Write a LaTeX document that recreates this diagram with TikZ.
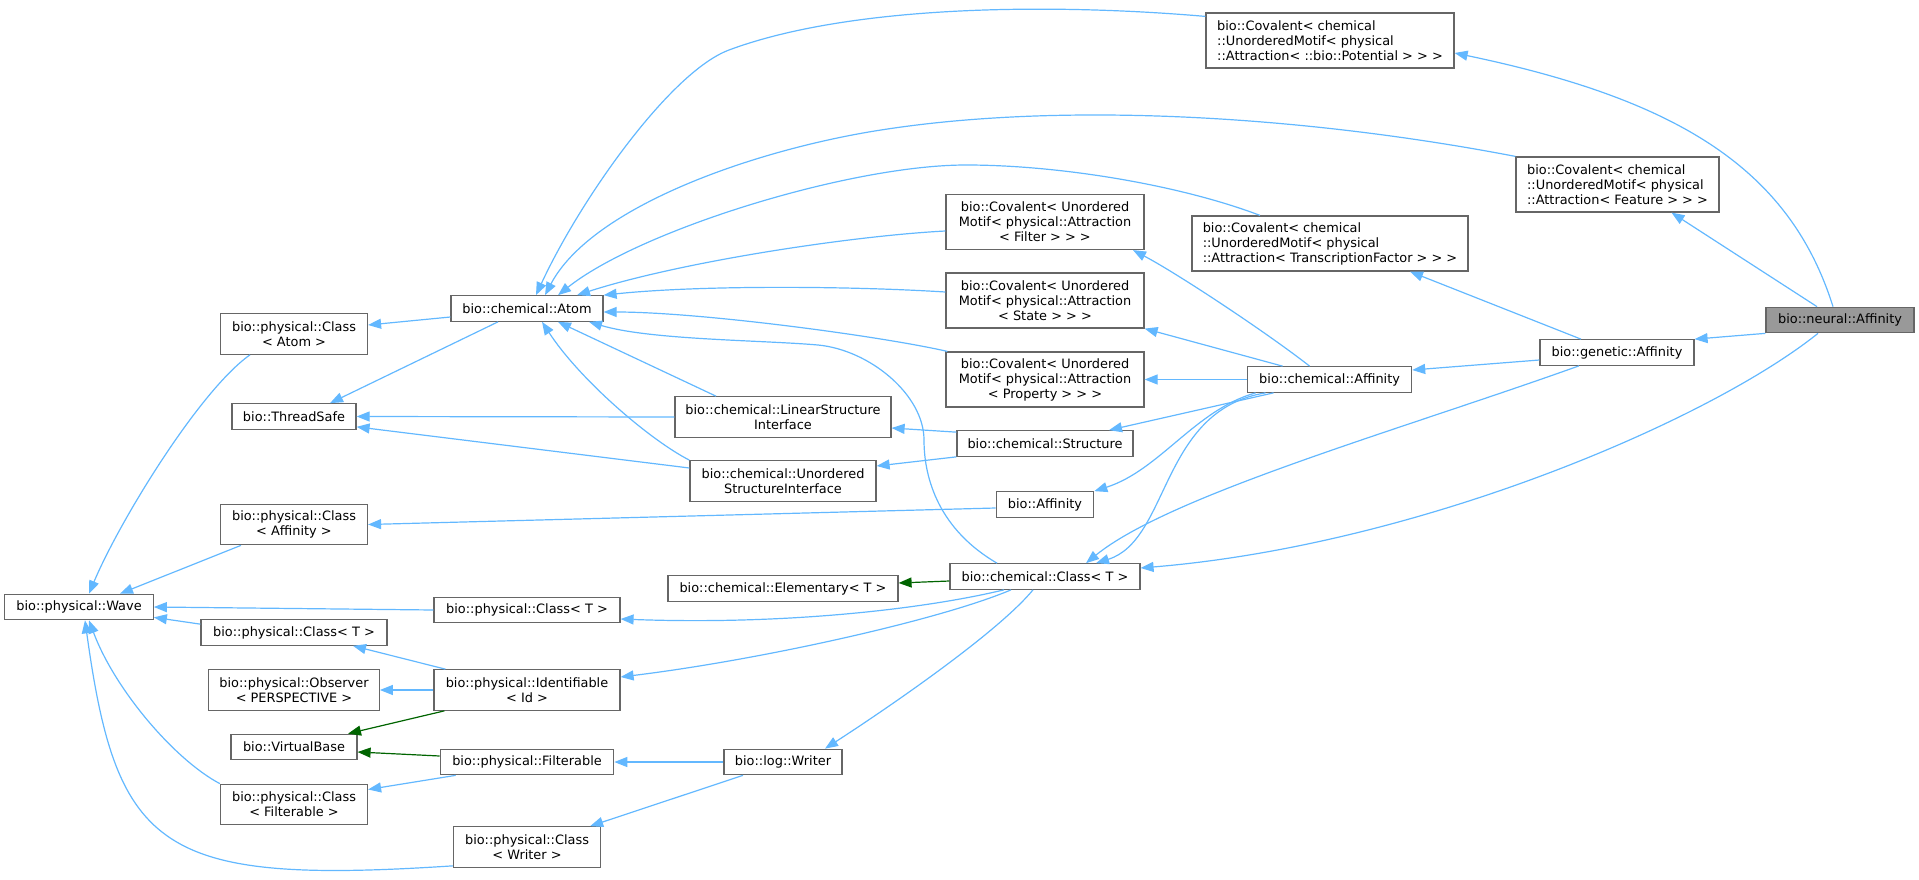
\documentclass[tikz,border=0pt]{standalone}
\usepackage{fontspec}
\setmainfont{DejaVu Sans}
\usepackage{xcolor}
\usetikzlibrary{arrows.meta}
\definecolor{edgeblue}{HTML}{63B8FF}
\definecolor{protgreen}{HTML}{006400}
\definecolor{boxline}{HTML}{666666}
\definecolor{curfill}{HTML}{999999}
\tikzset{
    cls/.style={draw=boxline, fill=white, line width=1.2pt, align=center, inner sep=0pt,
                font=\fontsize{12.9}{15}\selectfont},
    cur/.style={cls, fill=curfill},
    ln1/.style={minimum height=25.5pt},
    ln2/.style={minimum height=40.5pt},
    ln3/.style={minimum height=55pt},
    inh/.style={-{Triangle[length=13pt, width=10pt]}, draw=edgeblue, line width=1.2pt},
    prot/.style={-{Triangle[length=13pt, width=10pt]}, draw=protgreen, line width=1.2pt},
}

\begin{document}
\begin{tikzpicture}[x=1pt, y=-1pt]
    \useasboundingbox (0,0) rectangle (1919,880);
    \node[cur, ln1, minimum width=148pt] (neural) at (1840,320) {bio::neural::Affinity};
    \node[cls, ln3, minimum width=248pt, align=left] (potential) at (1330,40.5) {bio::Covalent< chemical\\::UnorderedMotif< physical\\::Attraction< ::bio::Potential > > >};
    \node[cls, ln3, minimum width=203pt, align=left] (feature) at (1617.5,184.5) {bio::Covalent< chemical\\::UnorderedMotif< physical\\::Attraction< Feature > > >};
    \node[cls, ln3, minimum width=276pt, align=left] (tf) at (1330,243.5) {bio::Covalent< chemical\\::UnorderedMotif< physical\\::Attraction< TranscriptionFactor > > >};
    \node[cls, ln1, minimum width=154pt] (genetic) at (1617,352.5) {bio::genetic::Affinity};
    \node[cls, ln1, minimum width=164pt] (chemaff) at (1329.6,379.5) {bio::chemical::Affinity};
    \node[cls, ln3, minimum width=198pt] (filter) at (1045,222) {bio::Covalent< Unordered\\Motif< physical::Attraction\\< Filter > > >};
    \node[cls, ln3, minimum width=198pt] (state) at (1045,300.5) {bio::Covalent< Unordered\\Motif< physical::Attraction\\< State > > >};
    \node[cls, ln3, minimum width=198pt] (property) at (1045,379.5) {bio::Covalent< Unordered\\Motif< physical::Attraction\\< Property > > >};
    \node[cls, ln1, minimum width=152pt] (atom) at (527,308.5) {bio::chemical::Atom};
    \node[cls, ln2, minimum width=147pt] (clsatom) at (294,334) {bio::physical::Class\\< Atom >};
    \node[cls, ln1, minimum width=124pt] (tsafe) at (294,416.5) {bio::ThreadSafe};
    \node[cls, ln2, minimum width=216pt] (linear) at (783,417) {bio::chemical::LinearStructure\\Interface};
    \node[cls, ln1, minimum width=176pt] (structure) at (1045,443.5) {bio::chemical::Structure};
    \node[cls, ln2, minimum width=186pt] (unordered) at (783,481) {bio::chemical::Unordered\\StructureInterface};
    \node[cls, ln1, minimum width=97.5pt] (bioaff) at (1045,504.5) {bio::Affinity};
    \node[cls, ln2, minimum width=147pt] (clsaff) at (294,524.5) {bio::physical::Class\\< Affinity >};
    \node[cls, ln1, minimum width=148.5pt] (wave) at (79,607) {bio::physical::Wave};
    \node[cls, ln1, minimum width=186pt] (pclsa) at (527,610) {bio::physical::Class< T >};
    \node[cls, ln1, minimum width=186pt] (pclsb) at (294,632.5) {bio::physical::Class< T >};
    \node[cls, ln1, minimum width=230pt] (elem) at (783,588.5) {bio::chemical::Elementary< T >};
    \node[cls, ln1, minimum width=190pt] (chemcls) at (1045,576.5) {bio::chemical::Class< T >};
    \node[cls, ln2, minimum width=170.5pt] (observer) at (294,690) {bio::physical::Observer\\< PERSPECTIVE >};
    \node[cls, ln2, minimum width=186pt] (ident) at (527,690) {bio::physical::Identifiable\\< Id >};
    \node[cls, ln1, minimum width=126pt] (vbase) at (294,747) {bio::VirtualBase};
    \node[cls, ln1, minimum width=173.4pt] (filt) at (527,762) {bio::physical::Filterable};
    \node[cls, ln2, minimum width=147pt] (clsfilt) at (294,804.5) {bio::physical::Class\\< Filterable >};
    \node[cls, ln2, minimum width=147pt] (clswriter) at (527,847) {bio::physical::Class\\< Writer >};
    \node[cls, ln1, minimum width=118pt] (writer) at (783,762) {bio::log::Writer};

    \draw[inh] ([xshift=-7pt]neural.north) .. controls (1790,170) and (1680,100) .. ([yshift=-12.5pt]potential.east);
    \draw[inh] ([xshift=-23pt]neural.north) -- ([xshift=54pt]feature.south);
    \draw[inh] (neural.south west) -- (genetic.north east);
    \draw[inh] ([xshift=-22pt]neural.south) .. controls (1710,420) and (1420,545) .. ([yshift=8.5pt]chemcls.east);
    \draw[inh] ([xshift=-36pt]genetic.north) -- ([xshift=80pt]tf.south);
    \draw[inh] ([yshift=-7.5pt]genetic.west) -- ([yshift=9.5pt]chemaff.east);
    \draw[inh] ([xshift=-38pt]genetic.south) .. controls (1400,430) and (1170,495) .. ([xshift=41pt]chemcls.north);
    \draw[inh] ([xshift=-20pt]chemaff.north) .. controls (1270,335) and (1180,275) .. ([xshift=88pt]filter.south);
    \draw[inh] ([xshift=-47pt]chemaff.north) -- (state.south east);
    \draw[inh] (chemaff.west) -- (property.east);
    \draw[inh] ([xshift=-56pt]chemaff.south) -- ([xshift=64pt]structure.north);
    \draw[inh] ([xshift=-74pt]chemaff.south) .. controls (1195,410) and (1160,470) .. (bioaff.north east);
    \draw[inh] ([xshift=-64pt]chemaff.south) .. controls (1160,410) and (1170,540) .. ([xshift=51pt]chemcls.north);

    \draw[inh] ([yshift=-4pt]potential.north west) .. controls (1050,3) and (850,5) .. (729,50) .. controls (670,72) and (580,200) .. ([xshift=9pt]atom.north);
    \draw[inh] (feature.north west) .. controls (1300,115) and (1050,100) .. (863,133) .. controls (740,155) and (590,210) .. ([xshift=18pt]atom.north);
    \draw[inh] ([xshift=-70pt]tf.north) .. controls (1180,185) and (1060,165) .. (966,165) .. controls (850,165) and (640,230) .. ([xshift=31pt]atom.north);
    \draw[inh] ([yshift=-9pt]filter.west) .. controls (850,236) and (680,262) .. ([xshift=50pt]atom.north);
    \draw[inh] ([yshift=8.5pt]state.west) .. controls (850,286) and (700,285) .. (atom.north east);
    \draw[inh] ([xshift=2pt]property.north west) .. controls (880,336) and (700,312) .. ([yshift=-3.5pt]atom.east);
    \draw[inh] ([xshift=-67pt]linear.north) -- ([xshift=31pt]atom.south);
    \draw[inh] (unordered.north west) .. controls (650,440) and (580,380) .. ([xshift=15pt]atom.south);
    \draw[inh] ([xshift=-48pt]chemcls.north) .. controls (940,530) and (924,480) .. (924,440) .. controls (924,395) and (870,350) .. (818,345) .. controls (760,340) and (650,340) .. ([xshift=62pt]atom.south);

    \draw[inh] ([yshift=-8.5pt]atom.west) -- ([yshift=9pt]clsatom.east);
    \draw[inh] ([xshift=-29pt]atom.south) -- ([xshift=36pt]tsafe.north);
    \draw[inh] (linear.west) -- (tsafe.east);
    \draw[inh] ([yshift=13pt]unordered.west) -- ([yshift=3pt]tsafe.south east);
    \draw[inh] ([yshift=-2pt]structure.north west) -- ([yshift=-11pt]linear.east);
    \draw[inh] (structure.south west) -- ([yshift=15pt]unordered.east);

    \draw[inh] ([xshift=-44pt]clsatom.south) .. controls (200,390) and (120,520) .. ([xshift=10pt]wave.north);
    \draw[inh] ([xshift=-53pt]clsaff.south) -- ([xshift=41pt]wave.north);
    \draw[inh] ([yshift=-3.5pt]bioaff.west) -- (clsaff.east);
    \draw[inh] (pclsa.west) -- (wave.east);
    \draw[inh] ([yshift=-5pt]pclsb.north west) -- ([yshift=3pt]wave.south east);
    \draw[inh] ([xshift=12pt]ident.north west) -- ([xshift=59pt]pclsb.south);
    \draw[inh] (ident.west) -- (observer.east);
    \draw[prot] ([xshift=11pt]ident.south west) -- ([xshift=54pt]vbase.north);
    \draw[prot] ([yshift=6pt]filt.west) -- ([yshift=-5pt]vbase.east);
    \draw[inh] ([xshift=16pt]filt.south west) -- ([yshift=15pt]clsfilt.east);
    \draw[inh] (clsfilt.north west) .. controls (175,760) and (115,690) .. ([xshift=10pt]wave.south);
    \draw[inh] ([yshift=2pt]clswriter.south west) .. controls (160,885) and (117,852) .. ([xshift=6pt]wave.south);

    \draw[inh] (writer.west) -- (filt.east);
    \draw[inh] ([xshift=-40pt]writer.south) -- ([xshift=-11pt]clswriter.north east);
    \draw[inh] ([xshift=-12pt]chemcls.south) .. controls (1000,630) and (900,700) .. ([xshift=42pt]writer.north);
    \draw[prot] ([yshift=-4.5pt]chemcls.west) -- ([yshift=5.5pt]elem.east);
    \draw[inh] ([xshift=-41pt]chemcls.south) .. controls (920,610) and (780,625) .. ([yshift=-9pt]pclsa.east);
    \draw[inh] ([xshift=-34pt]chemcls.south) .. controls (940,620) and (760,660) .. ([yshift=13pt]ident.east);
\end{tikzpicture}
\end{document}
